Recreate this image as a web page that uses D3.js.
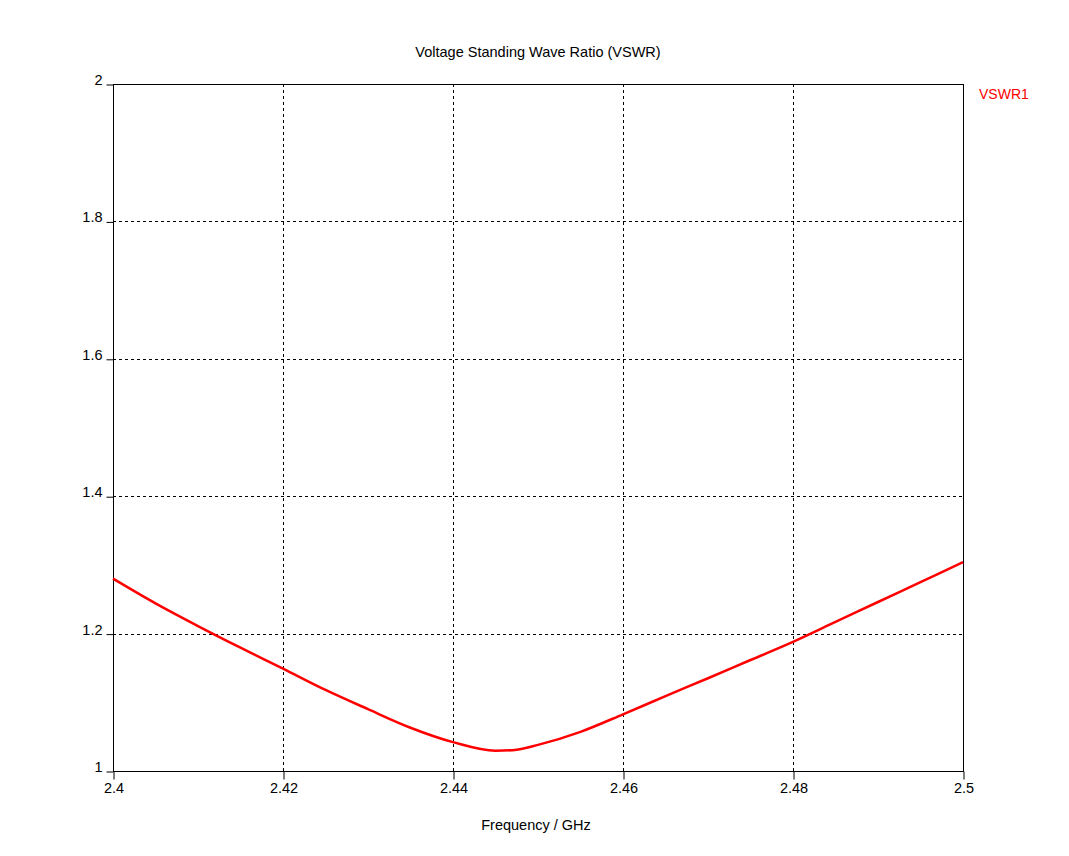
<!DOCTYPE html>
<html>
<head>
<meta charset="utf-8">
<script src="https://cdn.jsdelivr.net/npm/d3@7/dist/d3.min.js"></script>
<style>
  html, body { margin: 0; padding: 0; background: #ffffff; }
  svg { display: block; }
  text { font-family: "Liberation Sans", Arial, sans-serif; }
</style>
</head>
<body>
<svg id="chart" width="1069" height="856"></svg>
<script>
const chartTitle = "Voltage Standing Wave Ratio (VSWR)";
const xAxisTitle = "Frequency / GHz";
const seriesName = "VSWR1";

const frequency = [2.400, 2.405, 2.410, 2.415, 2.420, 2.425, 2.430, 2.435, 2.440, 2.445, 2.4475, 2.450, 2.455, 2.460, 2.465, 2.470, 2.475, 2.480, 2.485, 2.490, 2.495, 2.500];
const vswr      = [1.280, 1.244, 1.211, 1.1795, 1.149, 1.118, 1.090, 1.063, 1.042, 1.0295, 1.031, 1.038, 1.057, 1.0825, 1.109, 1.135, 1.1616, 1.188, 1.217, 1.246, 1.275, 1.304];

const xTicks = [2.40, 2.42, 2.44, 2.46, 2.48, 2.50];
const xTickLabels = ["2.4", "2.42", "2.44", "2.46", "2.48", "2.5"];
const yTicks = [1, 1.2, 1.4, 1.6, 1.8, 2];
const yTickLabels = ["1", "1.2", "1.4", "1.6", "1.8", "2"];

const svg = d3.select("#chart");
const plotLeft = 113, plotTop = 84, plotRight = 963, plotBottom = 771;

const x = d3.scaleLinear().domain([2.4, 2.5]).range([plotLeft, plotRight]);
const y = d3.scaleLinear().domain([1, 2]).range([plotBottom, plotTop]);

// grid
const grid = svg.append("g");
grid.selectAll("line.vg").data(xTicks.slice(1, -1)).enter().append("line")
  .attr("x1", d => Math.round(x(d)) + 0.5).attr("x2", d => Math.round(x(d)) + 0.5)
  .attr("y1", plotTop).attr("y2", plotBottom)
  .attr("stroke", "#000").attr("stroke-width", 1).attr("stroke-dasharray", "3,3");
grid.selectAll("line.hg").data(yTicks.slice(1, -1)).enter().append("line")
  .attr("y1", d => Math.round(y(d)) + 0.5).attr("y2", d => Math.round(y(d)) + 0.5)
  .attr("x1", plotLeft).attr("x2", plotRight)
  .attr("stroke", "#000").attr("stroke-width", 1).attr("stroke-dasharray", "3,3");

// frame
svg.append("rect")
  .attr("x", plotLeft + 0.5).attr("y", plotTop + 0.5)
  .attr("width", plotRight - plotLeft).attr("height", plotBottom - plotTop)
  .attr("fill", "none").attr("stroke", "#000").attr("stroke-width", 1);

// axes
const xAxis = d3.axisBottom(x).tickValues(xTicks).tickSize(8).tickPadding(3)
  .tickFormat((d, i) => xTickLabels[i]);
const gx = svg.append("g").attr("transform", `translate(0.5,${plotBottom + 0.5})`).call(xAxis);
gx.select(".domain").remove();
gx.selectAll("text").attr("font-size", "14.5px").attr("fill", "#000")
  .attr("font-family", "Liberation Sans, Arial, sans-serif");

const yAxis = d3.axisLeft(y).tickValues(yTicks).tickSize(7).tickPadding(4)
  .tickFormat((d, i) => yTickLabels[i]);
const gy = svg.append("g").attr("transform", `translate(${plotLeft + 0.5},0.5)`).call(yAxis);
gy.select(".domain").remove();
gy.selectAll(".tick text").attr("font-size", "14.5px").attr("fill", "#000")
  .attr("dy", "0em")
  .attr("font-family", "Liberation Sans, Arial, sans-serif");

// line
const line = d3.line().x((d, i) => x(frequency[i])).y(d => y(d)).curve(d3.curveMonotoneX);
svg.append("path").datum(vswr)
  .attr("d", line).attr("fill", "none")
  .attr("stroke", "#ff0000").attr("stroke-width", 2.5);

// titles
svg.append("text").attr("x", 538).attr("y", 57)
  .attr("text-anchor", "middle").attr("font-size", "14.5px").attr("fill", "#000")
  .text(chartTitle);
svg.append("text").attr("x", 536).attr("y", 830)
  .attr("text-anchor", "middle").attr("font-size", "14.5px").attr("fill", "#000")
  .text(xAxisTitle);
svg.append("text").attr("x", 979).attr("y", 99)
  .attr("text-anchor", "start").attr("font-size", "14px").attr("fill", "#ff0000")
  .text(seriesName);
</script>
</body>
</html>
